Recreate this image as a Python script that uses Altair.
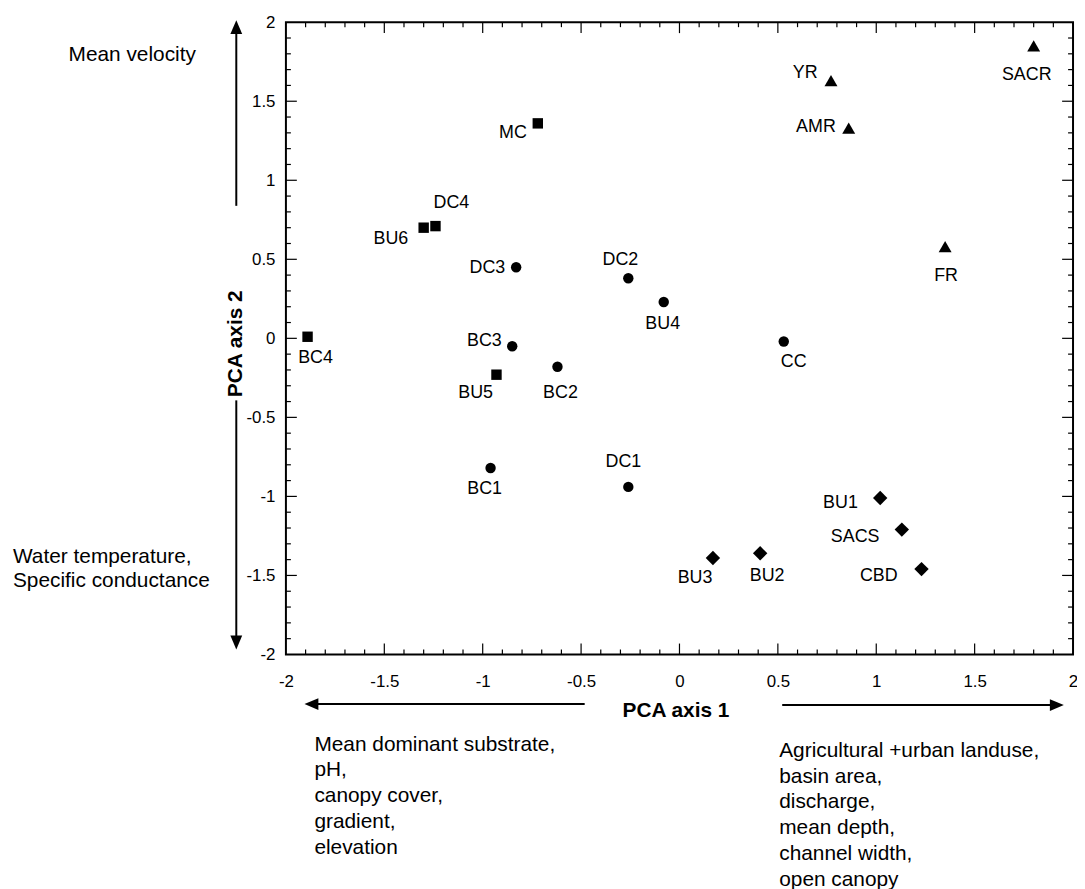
import altair as alt
import pandas as pd

# ---------------- data ----------------
sites = ["MC", "DC4", "BU6", "BC4", "BU5",
         "DC3", "DC2", "BU4", "BC3", "BC2", "CC", "BC1", "DC1",
         "SACR", "YR", "AMR", "FR",
         "BU1", "SACS", "CBD", "BU3", "BU2"]
pca1 = [-0.72, -1.24, -1.30, -1.89, -0.93,
        -0.83, -0.26, -0.08, -0.85, -0.62, 0.53, -0.96, -0.26,
        1.80, 0.77, 0.86, 1.35,
        1.02, 1.13, 1.23, 0.17, 0.41]
pca2 = [1.36, 0.71, 0.70, 0.01, -0.23,
        0.45, 0.38, 0.23, -0.05, -0.18, -0.02, -0.82, -0.94,
        1.85, 1.63, 1.33, 0.58,
        -1.01, -1.21, -1.46, -1.39, -1.36]
site_group = ["G1"] * 5 + ["G2"] * 8 + ["G3"] * 4 + ["G4"] * 5

axis_ticks = [-2, -1.5, -1, -0.5, 0, 0.5, 1, 1.5, 2]
x_title = "PCA axis 1"
y_title = "PCA axis 2"
up_text = ["Mean velocity"]
down_text = ["Water temperature,", "Specific conductance"]
left_text = ["Mean dominant substrate,", "pH,", "canopy cover,", "gradient,", "elevation"]
right_text = ["Agricultural +urban landuse,", "basin area,", "discharge,",
              "mean depth,", "channel width,", "open canopy"]

# ---------------- layout / style ----------------
W, H = 793, 637
FONT = "Liberation Sans"

# label centre offset from its symbol, in pixels (dx, dy)
LABEL_OFFSETS = {
    "MC": (-25, 10), "DC4": (16, -23), "BU6": (-33, 11), "BC4": (8, 21), "BU5": (-21, 18),
    "DC3": (-29, 1), "DC2": (-8, -18), "BU4": (-1, 22), "BC3": (-28, -5), "BC2": (3, 26),
    "CC": (10, 21), "BC1": (-6, 21), "DC1": (-5, -25),
    "SACR": (-7, 29), "YR": (-26, -8), "AMR": (-33, -1), "FR": (1, 30),
    "BU1": (-40, 5), "SACS": (-47, 7), "CBD": (-43, 7), "BU3": (-18, 20), "BU2": (7, 23),
}
GROUP_STYLE = {"G1": ("square", 110), "G2": ("circle", 110),
               "G3": ("triangle-up", 170), "G4": ("diamond", 210)}

df = pd.DataFrame({"site": sites, "pca1": pca1, "pca2": pca2, "group": site_group})
df["ldx"] = [LABEL_OFFSETS[s][0] for s in sites]
df["ldy"] = [LABEL_OFFSETS[s][1] for s in sites]

xs = alt.Scale(domain=[-2, 2], nice=False, zero=False)
ys = alt.Scale(domain=[-2, 2], nice=False, zero=False)

x_axis = alt.Axis(values=axis_ticks, ticks=False, tickSize=0, domain=False, grid=False,
                  labelFont=FONT, labelFontSize=17, labelColor="black", labelPadding=19,
                  labelFlush=False, labelOverlap=False, labelExpr="datum.value + ''",
                  title=x_title, titleFont=FONT, titleFontSize=21, titleFontWeight="bold",
                  titleColor="black", titleX=W / 2 - 4, titleY=56, titleAlign="center",
                  titleBaseline="middle", titleAnchor="middle")
y_axis = alt.Axis(values=axis_ticks, ticks=False, tickSize=0, domain=False, grid=False,
                  labelFont=FONT, labelFontSize=17, labelColor="black", labelPadding=11,
                  labelFlush=False, labelOverlap=False, labelExpr="datum.value + ''",
                  title=y_title, titleFont=FONT, titleFontSize=21, titleFontWeight="bold",
                  titleColor="black", titleX=-51, titleY=H / 2 + 5, titleAngle=-90,
                  titleAlign="center", titleBaseline="middle", titleAnchor="middle")


def X(field):
    return alt.X(field, scale=xs, axis=x_axis)


def Y(field):
    return alt.Y(field, scale=ys, axis=y_axis)


point_layers = []
for g, (shape, size) in GROUP_STYLE.items():
    point_layers.append(
        alt.Chart(df).transform_filter(alt.datum.group == g)
        .mark_point(filled=True, opacity=1, color="black", shape=shape, size=size)
        .encode(x=X("pca1:Q"), y=Y("pca2:Q"))
    )

labels = alt.Chart(df).transform_calculate(
    lx=f"datum.pca1 + datum.ldx * 4 / {W}",
    ly=f"datum.pca2 - datum.ldy * 4 / {H}",
).mark_text(font=FONT, fontSize=18, align="center", baseline="middle", color="black").encode(
    x=X("lx:Q"), y=Y("ly:Q"), text="site:N",
)

major = [v for v in axis_ticks if abs(v) < 2]
minor = [v / 10 for v in range(-19, 20) if v % 5 != 0]


def tick_layers(vals, L):
    d = pd.DataFrame({"t": vals})
    base = alt.Chart(d).mark_rule(color="black", strokeWidth=1.2)
    return [
        base.encode(y=Y("t:Q"), x=alt.value(0), x2=alt.value(L)),
        base.encode(y=Y("t:Q"), x=alt.value(W - L), x2=alt.value(W)),
        base.encode(x=X("t:Q"), y=alt.value(H - L), y2=alt.value(H)),
        base.encode(x=X("t:Q"), y=alt.value(0), y2=alt.value(L)),
    ]


ticks = tick_layers(major, 11) + tick_layers(minor, 5)

one = pd.DataFrame({"a": [0]})


def shaft(x1, y1, x2, y2):
    return alt.Chart(one).mark_rule(color="black", strokeWidth=2).encode(
        x=alt.value(x1), y=alt.value(y1), x2=alt.value(x2), y2=alt.value(y2))


def head(path, x, y):
    return alt.Chart(one).mark_point(shape=path, filled=True, opacity=1, color="black",
                                     size=196).encode(x=alt.value(x), y=alt.value(y))


UP = "M0,-1L0.85,1L-0.85,1Z"
DOWN = "M0,1L0.85,-1L-0.85,-1Z"
LEFT = "M-1,0L1,-0.85L1,0.85Z"
RIGHT = "M1,0L-1,-0.85L-1,0.85Z"

arrows = [
    shaft(-50, 185, -50, 8), head(UP, -50, 5),
    shaft(-50, 381, -50, 624), head(DOWN, -50, 625),
    shaft(301, 687, 27, 687), head(LEFT, 25.7, 687),
    shaft(500, 688, 775, 688), head(RIGHT, 776.7, 688),
]


def block(lines, x, y, lh):
    return alt.Chart(one).mark_text(text=lines, font=FONT, fontSize=21, align="left",
                                    baseline="alphabetic", lineHeight=lh, color="black").encode(
        x=alt.value(x), y=alt.value(y))


texts = [
    block(up_text, -219, 38.7, 24),
    block(down_text, -275, 544.5, 24.2),
    block(left_text, 28.7, 734, 25.9),
    block(right_text, 497, 740, 26),
]

chart = alt.layer(*point_layers, labels, *ticks, *arrows, *texts).properties(
    width=W, height=H,
    autosize=alt.AutoSizeParams(type="none"),
    padding={"left": 280, "top": 11, "right": 4, "bottom": 236},
    background="white",
).configure_view(stroke="black", strokeWidth=2)

chart.save("out.html", embed_options={"renderer": "svg", "actions": False})
